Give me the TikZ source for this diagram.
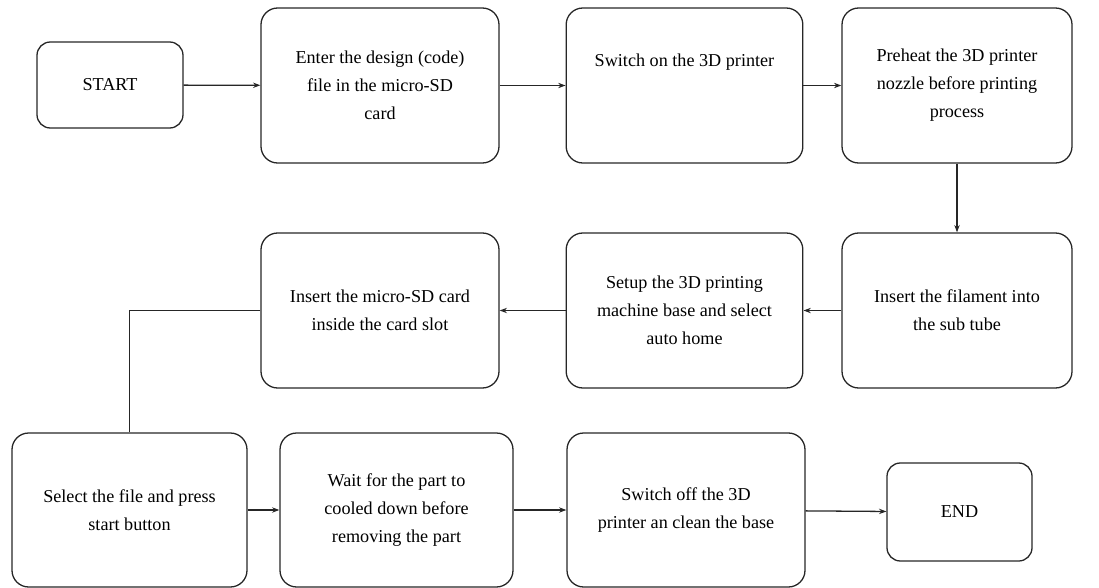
\documentclass[tikz,border=0pt]{standalone}
\usepackage{fontspec}
\setmainfont{Liberation Serif}
\usetikzlibrary{arrows.meta}

\begin{document}
\begin{tikzpicture}[
  stepbox/.style={rectangle, rounded corners=0.5cm, draw=black!85, line width=1.1pt,
    inner sep=0pt, minimum width=7.1cm, minimum height=4.65cm, align=center,
    font=\fontsize{15.5}{24}\selectfont},
  termbox/.style={stepbox, rounded corners=0.4cm},
  flow/.style={line width=1.1pt, draw=black!85, -{Stealth[length=2.2mm, width=1.6mm]}}
]
  \useasboundingbox (0,0) rectangle (32.97,-17.64);

  % fila superior
  \node[termbox, minimum width=4.38cm, minimum height=2.58cm] (start) at (3.30,-2.55) {START};
  \node[stepbox, minimum width=7.14cm] (enter) at (11.40,-2.565) {Enter the design (code)\\ file in the micro-SD\\ card};
  \node[stepbox, text height=0.45cm, text depth=1.6cm] (switchon) at (20.535,-2.565) {Switch on the 3D printer};
  \node[stepbox, minimum width=6.9cm] (preheat) at (28.71,-2.565) {Preheat the 3D printer\\ nozzle before printing\\ process};

  % fila central
  \node[stepbox, minimum width=6.9cm] (filament) at (28.71,-9.315) {Insert the filament into\\ the sub tube};
  \node[stepbox] (setup) at (20.535,-9.315) {Setup the 3D printing\\ machine base and select\\ auto home};
  \node[stepbox, minimum width=7.14cm] (insertsd) at (11.40,-9.315) {Insert the micro-SD card\\ inside the card slot};

  % fila inferior
  \node[stepbox, minimum width=7.05cm, minimum height=4.62cm] (select) at (3.885,-15.30) {Select the file and press\\ start button};
  \node[stepbox, minimum width=6.99cm, minimum height=4.62cm] (wait) at (11.895,-15.30) {Wait for the part to\\ cooled down before\\ removing the part};
  \node[stepbox, minimum width=7.14cm, minimum height=4.62cm] (switchoff) at (20.58,-15.30) {Switch off the 3D\\ printer an clean the base};
  \node[termbox, minimum width=4.35cm, minimum height=2.94cm] (end) at (28.785,-15.36) {END};

  % Flechas
  \draw[flow] (start) -- (enter);
  \draw[flow] (enter) -- (switchon);
  \draw[flow] (switchon) -- (preheat);
  \draw[flow] (preheat) -- (filament);
  \draw[flow] (filament) -- (setup);
  \draw[flow] (setup) -- (insertsd);
  \draw[line width=1.1pt, draw=black!85] (insertsd.west) -| (select.north);
  \draw[flow] (select) -- (wait);
  \draw[flow] (wait) -- (switchoff);
  \draw[flow] (switchoff) -- (end);
\end{tikzpicture}
\end{document}
